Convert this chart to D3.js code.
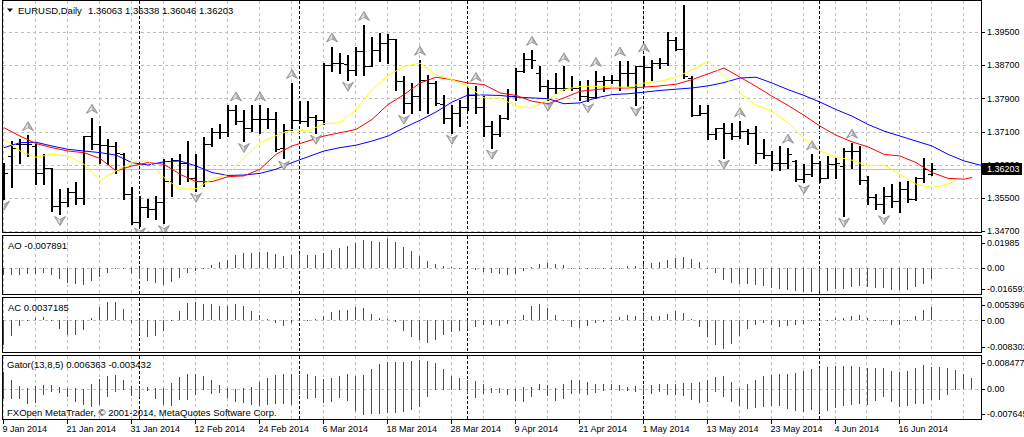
<!DOCTYPE html>
<html>
<head>
<meta charset="utf-8">
<script src="https://cdn.jsdelivr.net/npm/d3@7"></script>
<style>
html, body { margin: 0; padding: 0; background: #fff; }
svg { display: block; font-family: "Liberation Sans", Arial, sans-serif; font-size: 9px; }
.lbl { font-size: 9.5px; }
</style>
</head>
<body>
<svg width="1024" height="437"></svg>
<script>
// ---- data ----
const symbol = 'EURUSD,Daily';

const opens = [1.3627,1.3651,1.3679,1.3681,1.3675,1.3611,1.3623,1.3531,1.3541,1.3563,
1.3549,1.3699,1.3679,1.3677,1.3675,1.3655,1.3559,1.3492,1.3527,1.3524,
1.3539,1.3591,1.3641,1.3635,1.3597,1.3591,1.3681,1.3709,1.3709,1.3761,
1.3735,1.3719,1.3739,1.3739,1.3740,1.3669,1.3713,1.3737,1.3735,1.3745,
1.3737,1.3871,1.3875,1.3873,1.3859,1.3903,1.3869,1.3907,1.3923,1.3932,
1.3831,1.3779,1.3795,1.3835,1.3827,1.3777,1.3743,1.3755,1.3769,1.3799,
1.3769,1.3723,1.3703,1.3743,1.3795,1.3855,1.3884,1.3852,1.3820,1.3815,
1.3815,1.3815,1.3815,1.3795,1.3793,1.3831,1.3835,1.3835,1.3851,1.3852,
1.3867,1.3865,1.3875,1.3875,1.3931,1.3908,1.3839,1.3751,1.3755,1.3703,
1.3719,1.3707,1.3699,1.3711,1.3707,1.3659,1.3653,1.3635,1.3633,1.3639,
1.3595,1.3607,1.3635,1.3599,1.3631,1.3627,1.3663,1.3663,1.3593,1.3551,
1.3535,1.3555,1.3543,1.3571,1.3547,1.3599,1.36063];

const highs = [1.3635,1.3687,1.3691,1.3701,1.3681,1.3655,1.3623,1.3571,1.3573,1.3587,
1.3699,1.3743,1.3723,1.3691,1.3684,1.3659,1.3575,1.3555,1.3548,1.3555,
1.3643,1.3645,1.3655,1.3687,1.3655,1.3697,1.3719,1.3727,1.3773,1.3773,
1.3763,1.3773,1.3773,1.3767,1.3757,1.3729,1.3827,1.3783,1.3783,1.3751,
1.3875,1.3915,1.3899,1.3895,1.3913,1.3967,1.3939,1.3947,1.3944,1.3933,
1.3844,1.3827,1.3883,1.3847,1.3831,1.3799,1.3775,1.3787,1.3815,1.3820,
1.3795,1.3735,1.3751,1.3812,1.3863,1.3900,1.3907,1.3867,1.3835,1.3851,
1.3867,1.3843,1.3831,1.3835,1.3856,1.3843,1.3847,1.3881,1.3879,1.3867,
1.3891,1.3883,1.3887,1.3949,1.3937,1.4015,1.3843,1.3775,1.3773,1.3719,
1.3731,1.3731,1.3735,1.3715,1.3723,1.3691,1.3663,1.3675,1.3671,1.3641,
1.3631,1.3655,1.3639,1.3651,1.3645,1.3671,1.3683,1.3675,1.3603,1.3560,
1.3575,1.3583,1.3587,1.3591,1.3601,1.3645,1.36338];

const lows = [1.3548,1.3575,1.3635,1.3651,1.3583,1.3583,1.3519,1.3511,1.3531,1.3535,
1.3535,1.3667,1.3635,1.3631,1.3611,1.3547,1.3487,1.3483,1.3503,1.3499,
1.3489,1.3555,1.3583,1.3591,1.3567,1.3579,1.3675,1.3695,1.3699,1.3727,
1.3687,1.3711,1.3707,1.3719,1.3663,1.3645,1.3713,1.3731,1.3723,1.3707,
1.3727,1.3855,1.3851,1.3835,1.3847,1.3847,1.3867,1.3879,1.3876,1.3811,
1.3755,1.3755,1.3763,1.3755,1.3775,1.3731,1.3707,1.3723,1.3763,1.3755,
1.3699,1.3671,1.3699,1.3739,1.3787,1.3853,1.3863,1.3807,1.3787,1.3803,
1.3811,1.3811,1.3787,1.3783,1.3791,1.3807,1.3827,1.3811,1.3819,1.3775,
1.3819,1.3835,1.3863,1.3871,1.3907,1.3839,1.3747,1.3751,1.3691,1.3691,
1.3647,1.3691,1.3695,1.3679,1.3635,1.3647,1.3617,1.3617,1.3623,1.3591,
1.3587,1.3603,1.3587,1.3599,1.3599,1.3507,1.3623,1.3583,1.3535,1.3523,
1.3513,1.3527,1.3517,1.3539,1.3545,1.3589,1.36046];

const closes = [1.3611,1.3671,1.3681,1.3681,1.3611,1.3623,1.3531,1.3541,1.3563,1.3549,
1.3699,1.3679,1.3677,1.3675,1.3659,1.3559,1.3492,1.3527,1.3524,1.3539,
1.3591,1.3641,1.3635,1.3597,1.3591,1.3681,1.3709,1.3709,1.3761,1.3735,
1.3719,1.3739,1.3739,1.3740,1.3667,1.3713,1.3737,1.3735,1.3745,1.3737,
1.3871,1.3875,1.3875,1.3859,1.3903,1.3869,1.3907,1.3923,1.3932,1.3831,
1.3779,1.3795,1.3835,1.3827,1.3779,1.3743,1.3755,1.3769,1.3799,1.3769,
1.3723,1.3703,1.3743,1.3795,1.3855,1.3884,1.3883,1.3820,1.3815,1.3815,
1.3815,1.3815,1.3795,1.3793,1.3831,1.3835,1.3835,1.3851,1.3852,1.3867,
1.3865,1.3875,1.3875,1.3931,1.3908,1.3843,1.3751,1.3755,1.3703,1.3719,
1.3707,1.3699,1.3711,1.3707,1.3659,1.3653,1.3635,1.3633,1.3655,1.3595,
1.3607,1.3635,1.3599,1.3631,1.3633,1.3663,1.3663,1.3593,1.3551,1.3535,
1.3555,1.3543,1.3571,1.3547,1.3599,1.3619,1.36203];

// alligator lines as [bar position (already shifted), price]
const jawPts = [[0,1.3671],[2,1.3683],[4,1.3684],[6,1.3675],[8,1.3667],[10,1.3663],[12,1.3659],[14,1.3653],[16,1.3635],[18,1.3629],
[20,1.3637],[22,1.3639],[24,1.3627],[26,1.3611],[28,1.3604],[30,1.3605],[32,1.3609],[34,1.3619],[36,1.3635],[38,1.3649],
[40,1.3663],[42,1.3671],[44,1.3677],[46,1.3687],[48,1.3699],[50,1.3719],[52,1.3737],[54,1.3757],[56,1.3781],[58,1.3798],
[60,1.3798],[62,1.3797],[64,1.3793],[66,1.3791],[68,1.3789],[70,1.3777],[72,1.3779],[74,1.3791],[76,1.3799],[78,1.3801],
[80,1.3805],[82,1.3809],[84,1.3812],[86,1.3815],[88,1.3820],[90,1.3828],[92,1.3839],[94,1.3841],[96,1.3827],[98,1.3811],
[100,1.3797],[102,1.3781],[104,1.3763],[106,1.3747],[108,1.3727],[110,1.3711],[112,1.3699],[114,1.3687],[116,1.3675],[118,1.3655],
[120,1.3639],[122,1.3629],[124,1.3623]];

const teethPts = [[0,1.3719],[2,1.3699],[4,1.3681],[6,1.3671],[8,1.3663],[10,1.3659],[12,1.3645],[14,1.3615],[16,1.3627],[18,1.3635],
[20,1.3631],[22,1.3607],[24,1.3589],[26,1.3589],[28,1.3601],[30,1.3603],[32,1.3619],[34,1.3655],[36,1.3675],[38,1.3687],
[40,1.3699],[42,1.3707],[44,1.3715],[46,1.3739],[48,1.3775],[50,1.3799],[52,1.3827],[54,1.3841],[56,1.3835],[58,1.3827],
[60,1.3823],[62,1.3803],[64,1.3797],[66,1.3783],[68,1.3777],[70,1.3791],[72,1.3807],[74,1.3811],[76,1.3815],[78,1.3815],
[80,1.3817],[82,1.3820],[84,1.3824],[86,1.3835],[88,1.3849],[90,1.3863],[92,1.3841],[94,1.3819],[96,1.3795],[98,1.3773],
[100,1.3749],[102,1.3723],[104,1.3701],[106,1.3685],[108,1.3673],[110,1.3655],[112,1.3651],[114,1.3635],[116,1.3611],[118,1.3597],
[120,1.3595],[121,1.3599]];

const lipsPts = [[0,1.3691],[2,1.3663],[4,1.3648],[6,1.3655],[8,1.3651],[10,1.3631],[12,1.3591],[14,1.3615],[16,1.3636],[18,1.3639],
[20,1.3599],[22,1.3571],[24,1.3572],[26,1.3595],[28,1.3607],[30,1.3647],[32,1.3683],[34,1.3700],[36,1.3715],[38,1.3711],
[40,1.3729],[42,1.3731],[44,1.3763],[46,1.3811],[48,1.3845],[50,1.3867],[52,1.3875],[54,1.3847],[56,1.3835],[58,1.3819],
[60,1.3791],[62,1.3791],[64,1.3771],[66,1.3767],[68,1.3787],[70,1.3811],[72,1.3819],[74,1.3819],[76,1.3817],[78,1.3817],
[80,1.3827],[82,1.3831],[84,1.3841],[86,1.3859],[88,1.3879],[90,1.3843],[92,1.3803],[94,1.3773],[96,1.3759],[98,1.3731],
[100,1.3693],[102,1.3663],[104,1.3649],[106,1.3641],[108,1.3627],[110,1.3629],[112,1.3607],[114,1.3583],[116,1.3575],[118,1.3583],
[119,1.3591]];

const fractalUp = [3,11,29,32,36,41,45,52,59,66,70,74,77,80,85,92,98,101,106];
const fractalDown = [0,7,17,20,24,30,35,39,43,50,56,61,68,73,79,90,100,105,110];

const aoValues = [-0.00463,-0.00509,-0.00463,-0.00440,-0.00417,-0.00324,-0.00463,-0.00741,-0.01019,-0.01134,
-0.01157,-0.00926,-0.00648,-0.00324,-0.00093,-0.00046,-0.00324,-0.00741,-0.00880,-0.01019,
-0.01157,-0.00972,-0.00694,-0.00324,-0.00185,0.00023,0.00231,0.00417,0.00579,0.00880,
0.01042,0.01065,0.01111,0.01088,0.00972,0.00833,0.00926,0.00972,0.00880,0.00926,
0.01065,0.01227,0.01389,0.01528,0.01736,0.01921,0.01852,0.01829,0.01985,0.01806,
0.01458,0.01157,0.00833,0.00463,0.00278,0.00139,0.00069,0.00012,-0.00046,-0.00162,
-0.00255,-0.00347,-0.00417,-0.00463,-0.00394,-0.00185,0.00069,0.00278,0.00370,0.00255,
0.00208,0.00023,-0.00012,0.00002,-0.00046,-0.00058,-0.00023,0.00023,0.00139,0.00162,
0.00278,0.00347,0.00417,0.00556,0.00694,0.00764,0.00625,0.00417,-0.00046,-0.00347,
-0.00810,-0.01019,-0.01111,-0.01134,-0.01157,-0.01250,-0.01366,-0.01435,-0.01505,-0.01574,
-0.016591,-0.01644,-0.01620,-0.01574,-0.01481,-0.01435,-0.01343,-0.01227,-0.01319,-0.01366,
-0.01389,-0.01505,-0.01551,-0.01505,-0.01296,-0.01088,-0.007891];

const acValues = [-0.00721,-0.00452,-0.00163,-0.00029,0.00067,0.00096,-0.00019,-0.00240,-0.00413,-0.00423,
-0.00288,0.00067,0.00375,0.00529,0.005396,0.00337,-0.00067,-0.00385,-0.00481,-0.00462,
-0.00317,0.00010,0.00269,0.00510,0.00519,0.00481,0.00471,0.00413,0.00404,0.00471,
0.00413,0.00269,0.00163,0.00029,-0.00067,-0.00163,-0.00077,-0.00029,0.00000,0.00029,
0.00125,0.00240,0.00288,0.00298,0.00375,0.00365,0.00183,0.00067,0.00029,-0.00048,
-0.00308,-0.00481,-0.00577,-0.00644,-0.00558,-0.00413,-0.00337,-0.00308,-0.00240,-0.00183,
-0.00135,-0.00144,-0.00154,-0.00106,-0.00029,0.00163,0.00413,0.00481,0.00356,0.00163,
-0.00010,-0.00192,-0.00212,-0.00163,-0.00077,-0.00048,-0.00010,0.00096,0.00154,0.00125,
0.00183,0.00125,0.00115,0.00173,0.00260,0.00212,0.00029,-0.00192,-0.00481,-0.00702,
-0.008302,-0.00673,-0.00452,-0.00240,-0.00125,-0.00067,-0.00125,-0.00183,-0.00154,-0.00144,
-0.00096,-0.00029,-0.00010,0.00010,0.00067,0.00058,0.00125,0.00154,0.00067,0.00010,
-0.00010,-0.00125,-0.00135,-0.00010,0.00125,0.00298,0.0037185];

const gatorUp = [0.00485,0.00243,0.00078,0.00019,0.00068,0.00097,0.00117,0.00049,0.00019,0.00010,
0.00005,0.00146,0.00291,0.00369,0.00388,0.00243,0.00078,0.00019,0.00049,0.00019,
0.00010,0.00175,0.00330,0.00437,0.00427,0.00369,0.00262,0.00097,0.00010,0.00005,
0.00019,0.00049,0.00194,0.00320,0.00408,0.00417,0.00427,0.00408,0.00437,0.00369,
0.00291,0.00320,0.00369,0.00437,0.00369,0.00408,0.00583,0.00718,0.00777,0.00767,
0.00786,0.00806,0.008477,0.00806,0.00748,0.00583,0.00369,0.00311,0.00252,0.00223,
0.00136,0.00019,0.00010,0.00005,0.00003,0.00049,0.00058,0.00136,0.00097,0.00010,
0.00136,0.00252,0.00262,0.00194,0.00136,0.00146,0.00136,0.00097,0.00039,0.00078,
0.00097,0.00117,0.00136,0.00146,0.00136,0.00165,0.00155,0.00194,0.00252,0.00340,
0.00369,0.00194,0.00010,0.00136,0.00262,0.00369,0.00408,0.00417,0.00437,0.00466,
0.00524,0.00583,0.00602,0.00631,0.00660,0.00670,0.00660,0.00631,0.00602,0.00592,
0.00602,0.00515,0.00485,0.00524,0.00602,0.00680,0.006363,0.00631,0.00602,0.00544,
0.00427,0.00320];

const gatorDown = [-0.00291,-0.00301,-0.00311,-0.00437,-0.00408,-0.00194,-0.00097,-0.00136,-0.00243,-0.00388,
-0.00485,-0.00534,-0.00485,-0.00243,-0.00097,-0.00049,-0.00214,-0.00243,-0.00078,-0.00291,
-0.00485,-0.00505,-0.00340,-0.00330,-0.00175,-0.00019,-0.00146,-0.00117,-0.00272,-0.00388,
-0.00408,-0.00485,-0.00505,-0.00466,-0.00456,-0.00447,-0.00466,-0.00194,-0.00291,-0.00272,
-0.00408,-0.00388,-0.00262,-0.00359,-0.00660,-0.007645,-0.00738,-0.00728,-0.00718,-0.00709,
-0.00680,-0.00631,-0.00534,-0.00243,-0.00029,-0.00019,-0.00010,-0.00019,-0.00165,-0.00262,
-0.00146,-0.00136,-0.00117,-0.00194,-0.00359,-0.00388,-0.00243,-0.00019,-0.00214,-0.00350,
-0.00291,-0.00146,-0.00136,-0.00175,-0.00126,-0.00068,-0.00019,-0.00058,-0.00068,-0.00097,
-0.00175,-0.00146,-0.00097,-0.00175,-0.00184,-0.00214,-0.00320,-0.00408,-0.00388,-0.00097,
-0.00243,-0.00388,-0.00505,-0.00583,-0.00573,-0.00534,-0.00505,-0.00495,-0.00583,-0.00650,
-0.00680,-0.00612,-0.00689,-0.00650,-0.00553,-0.00515,-0.00485,-0.00447,-0.00466,-0.00350,
-0.00243,-0.00388,-0.00524,-0.00515,-0.00447,-0.00437,-0.003432,-0.00320,-0.00175,-0.00039];

const priceTicks = [1.347, 1.355, 1.363, 1.371, 1.379, 1.387, 1.395];
const timeTickBars = [0, 8, 16, 24, 32, 40, 48, 56, 64, 72, 80, 88, 96, 104, 112];
const timeTickLabels = ['9 Jan 2014','21 Jan 2014','31 Jan 2014','12 Feb 2014','24 Feb 2014','6 Mar 2014',
  '18 Mar 2014','28 Mar 2014','9 Apr 2014','21 Apr 2014','1 May 2014','13 May 2014','23 May 2014',
  '4 Jun 2014','16 Jun 2014'];
const monthStartBars = [17, 37, 58, 80, 102];
const aoRange = [-0.016591, 0.01985];
const acRange = [-0.008302, 0.005396];
const gatorRange = [-0.007645, 0.008477];
const aoAxisLabels = ['0.01985', '0.00', '-0.016591'];
const acAxisLabels = ['0.005396', '0.00', '-0.008302'];
const gatorAxisLabels = ['0.008477', '0.00', '-0.007645'];

// ---- layout ----
const GREEN = '#008000', RED = '#ff0000', GRID = '#c0c0c0';
const svg = d3.select('svg');
const left = 2.5, right = 981.5;

const panels = {
  main:  { top: 0.5,   bottom: 232.5 },
  ao:    { top: 235.5, bottom: 294.5 },
  ac:    { top: 297.5, bottom: 352.5 },
  gator: { top: 355.5, bottom: 419.5 }
};

const last = closes.length - 1;
const xScale = d3.scaleLinear().domain([0, last]).range([4, 4 + 8 * last]);
const yPrice = d3.scaleLinear().domain([1.347, 1.395]).range([231, 32]);
const yAO = d3.scaleLinear().domain(aoRange).range([291.9, 239.4]);
const yAC = d3.scaleLinear().domain(acRange).range([349.1, 301.6]);
const yGator = d3.scaleLinear().domain(gatorRange).range([414.9, 359.6]);

svg.append('rect').attr('width', 1024).attr('height', 437).attr('fill', '#fff');

const defs = svg.append('defs');
Object.entries(panels).forEach(([k, p]) => {
  defs.append('clipPath').attr('id', 'clip-' + k)
    .append('rect').attr('x', left + 0.5).attr('y', p.top + 0.5)
    .attr('width', right - left - 1).attr('height', p.bottom - p.top - 1);
});

// grid and separators per panel
const gridBars = d3.range(0, last + 8, 4);
Object.entries(panels).forEach(([k, p]) => {
  const g = svg.append('g').attr('clip-path', `url(#clip-${k})`).attr('shape-rendering', 'crispEdges');
  g.selectAll('line.vg').data(gridBars).join('line')
    .attr('x1', d => Math.floor(xScale(d)) - 0.5).attr('x2', d => Math.floor(xScale(d)) - 0.5)
    .attr('y1', p.top).attr('y2', p.bottom)
    .attr('stroke', GRID).attr('stroke-dasharray', '3,3');
  g.selectAll('line.ms').data(monthStartBars).join('line')
    .attr('x1', d => Math.floor(xScale(d)) - 0.5).attr('x2', d => Math.floor(xScale(d)) - 0.5)
    .attr('y1', p.top).attr('y2', p.bottom)
    .attr('stroke', '#000').attr('stroke-dasharray', '3,2');
});

const hLine = (g, y, color, dash) => g.append('line')
  .attr('x1', left).attr('x2', right)
  .attr('y1', Math.round(y) + 0.5).attr('y2', Math.round(y) + 0.5)
  .attr('stroke', color).attr('stroke-dasharray', dash);

const mainG = svg.append('g').attr('clip-path', 'url(#clip-main)');
const mainGrid = mainG.append('g').attr('shape-rendering', 'crispEdges');
priceTicks.forEach(p => hLine(mainGrid, yPrice(p), GRID, '3,3'));
hLine(mainGrid, yPrice(closes[last]), GRID, null);

// price bars
const barG = mainG.append('g').attr('shape-rendering', 'crispEdges').attr('stroke', '#000');
const idx = d3.range(closes.length);
barG.selectAll('line.hl').data(idx).join('line')
  .attr('x1', i => xScale(i)).attr('x2', i => xScale(i))
  .attr('y1', i => Math.round(yPrice(highs[i]))).attr('y2', i => Math.round(yPrice(lows[i])) + 1)
  .attr('stroke-width', 2);
barG.selectAll('line.op').data(idx).join('line')
  .attr('x1', i => xScale(i) - 4).attr('x2', i => xScale(i) - 1)
  .attr('y1', i => Math.round(yPrice(opens[i])) + 0.5).attr('y2', i => Math.round(yPrice(opens[i])) + 0.5);
barG.selectAll('line.cl').data(idx).join('line')
  .attr('x1', i => xScale(i) + 1).attr('x2', i => xScale(i) + 4)
  .attr('y1', i => Math.round(yPrice(closes[i])) + 0.5).attr('y2', i => Math.round(yPrice(closes[i])) + 0.5);

// alligator
const line = d3.line().x(d => xScale(d[0])).y(d => yPrice(d[1]));
[[jawPts, '#0000ff'], [teethPts, '#ff0000'], [lipsPts, '#ffff00']].forEach(([pts, c]) => {
  mainG.append('path').attr('d', line(pts)).attr('fill', 'none').attr('stroke', c).attr('stroke-width', 1);
});

// fractals
const arrowUp = 'M0,-4.5L5.5,4.5L0,1.5L-5.5,4.5Z';
const arrowDown = 'M0,4.5L5.5,-4.5L0,-1.5L-5.5,-4.5Z';
const drawArrow = (x, y, d, up) => {
  const g = mainG.append('g').attr('transform', `translate(${x},${y})`);
  g.append('path').attr('d', d).attr('fill', '#b4b4b4').attr('stroke', '#7c7c7c').attr('stroke-width', 0.7);
  g.append('path').attr('d', up ? 'M0,-3L-3.5,3L0,1.2Z' : 'M0,3L-3.5,-3L0,-1.2Z').attr('fill', '#e6e6e6');
};
fractalUp.forEach(i => drawArrow(xScale(i), yPrice(highs[i]) - 9, arrowUp, true));
fractalDown.forEach(i => drawArrow(xScale(i), yPrice(lows[i]) + 7, arrowDown, false));

// histograms
const colorsFor = (vals, firstColor, cmp) => vals.map((v, i) => i === 0 ? firstColor : (cmp(v, vals[i - 1]) ? GREEN : RED));
const drawHist = (key, vals, y, colors) => {
  const g = svg.append('g').attr('clip-path', `url(#clip-${key})`).attr('shape-rendering', 'crispEdges');
  const y0 = Math.round(y(0));
  g.selectAll('rect').data(vals).join('rect')
    .attr('x', (d, i) => xScale(i) - 1).attr('width', 1)
    .attr('y', d => d >= 0 ? Math.round(y(d)) : y0)
    .attr('height', d => Math.max(1, Math.abs(Math.round(y(d)) - y0)))
    .attr('fill', (d, i) => colors[i]);
};

const subGrid = (key, y) => {
  const g = svg.append('g').attr('clip-path', `url(#clip-${key})`).attr('shape-rendering', 'crispEdges');
  hLine(g, y(0), GRID, '3,3');
};
subGrid('ao', yAO); subGrid('ac', yAC); subGrid('gator', yGator);

drawHist('ao', aoValues, yAO, colorsFor(aoValues, RED, (a, b) => a > b));
drawHist('ac', acValues, yAC, colorsFor(acValues, GREEN, (a, b) => a > b));
drawHist('gator', gatorUp, yGator, colorsFor(gatorUp, RED, (a, b) => a > b));
drawHist('gator', gatorDown, yGator, colorsFor(gatorDown, GREEN, (a, b) => a < b));

// borders
Object.values(panels).forEach(p => {
  svg.append('rect').attr('x', left).attr('y', p.top)
    .attr('width', right - left).attr('height', p.bottom - p.top)
    .attr('fill', 'none').attr('stroke', '#000').attr('shape-rendering', 'crispEdges');
});

// right axis
const axisG = svg.append('g');
const rightLabel = (y, text) => {
  axisG.append('line').attr('x1', right).attr('x2', right + 3.5)
    .attr('y1', Math.round(y) + 0.5).attr('y2', Math.round(y) + 0.5)
    .attr('stroke', '#000').attr('shape-rendering', 'crispEdges');
  axisG.append('text').attr('x', 987).attr('y', y + 3.3).attr('fill', '#000').text(text);
};
priceTicks.forEach(p => rightLabel(yPrice(p), p.toFixed(5)));

const cy = yPrice(closes[last]);
axisG.append('rect').attr('x', 982).attr('y', Math.round(cy) - 6).attr('width', 40).attr('height', 12).attr('fill', '#000');
axisG.append('text').attr('x', 987).attr('y', cy + 3.3).attr('fill', '#fff').text(closes[last].toFixed(5));

[['ao', yAO, aoAxisLabels], ['ac', yAC, acAxisLabels], ['gator', yGator, gatorAxisLabels]].forEach(([k, y, labels]) => {
  const p = panels[k];
  rightLabel(p.top + 7.5, labels[0]);
  rightLabel(y(0), labels[1]);
  rightLabel(p.bottom - 5.5, labels[2]);
});

// time axis
timeTickBars.forEach((b, k) => {
  const x = Math.floor(xScale(b)) - 0.5;
  axisG.append('line').attr('x1', x).attr('x2', x).attr('y1', 419.5).attr('y2', 424)
    .attr('stroke', '#000').attr('shape-rendering', 'crispEdges');
  axisG.append('text').attr('x', x - 1).attr('y', 431.5).attr('fill', '#000').text(timeTickLabels[k]);
});

// header and indicator labels
const labelG = svg.append('g').attr('fill', '#000').attr('class', 'lbl');
labelG.append('path').attr('d', 'M7,8.5H13L10,12Z');
labelG.append('text').attr('x', 18).attr('y', 14).text(symbol);
labelG.append('text').attr('x', 88).attr('y', 14)
  .text([opens[last], highs[last], lows[last], closes[last]].map(v => v.toFixed(5)).join(' '));
labelG.append('text').attr('x', 8).attr('y', 248.5).text('AO ' + aoValues[last].toFixed(6));
labelG.append('text').attr('x', 8).attr('y', 310.5).text('AC ' + acValues[last].toFixed(7));
labelG.append('text').attr('x', 7).attr('y', 368)
  .text(`Gator(13,8,5) ${gatorUp[last].toFixed(6)} ${gatorDown[last].toFixed(6)}`);
labelG.append('text').attr('x', 7).attr('y', 415.5).text('FXOpen MetaTrader, \u00a9 2001-2014, MetaQuotes Software Corp.');
</script>
</body>
</html>
